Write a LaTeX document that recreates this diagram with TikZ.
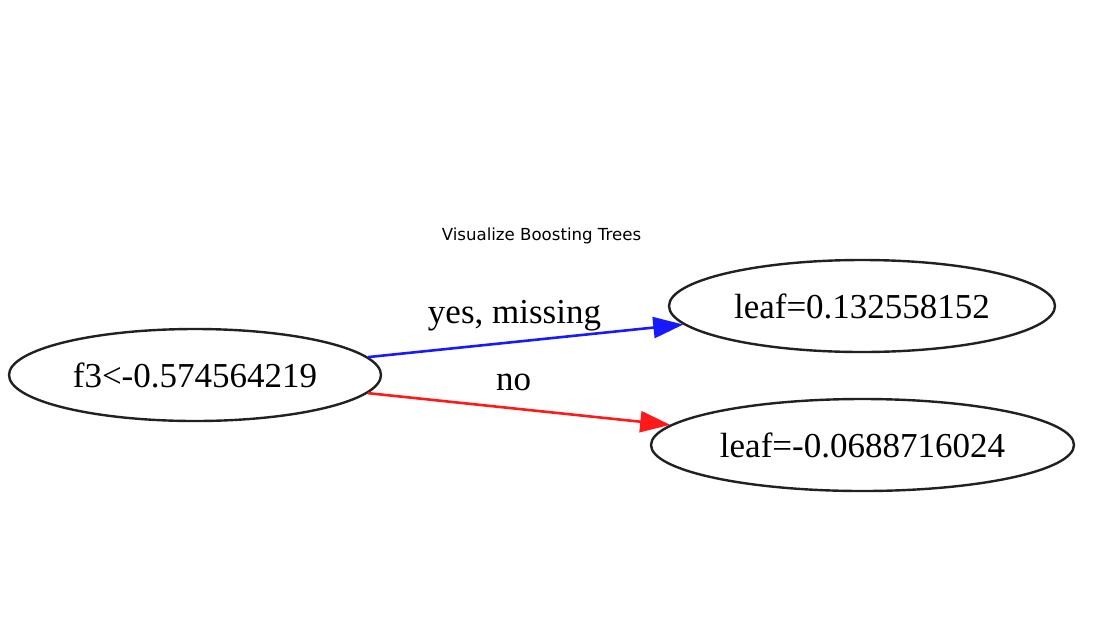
\documentclass[tikz,border=0pt]{standalone}
\usepackage{fontspec}
\setmainfont{Liberation Serif}
\newfontfamily\titlefont{DejaVu Sans}
\usetikzlibrary{shapes.geometric,arrows.meta}

\newlength{\du}
\setlength{\du}{1pt}

\begin{document}
\begin{tikzpicture}[x=1\du,y=-1\du,
  treenode/.style={ellipse,draw=dialinecolor,line width=2.4\du,inner sep=0pt,
    font=\fontsize{35}{40}\selectfont},
  edgelabel/.style={inner sep=0pt,font=\fontsize{35}{40}\selectfont},
  treeedge/.style={line width=2.6\du,-{Triangle[length=30pt,width=21pt]}}]
\definecolor{dialinecolor}{rgb}{0.130000, 0.130000, 0.130000}
\definecolor{yescolor}{rgb}{0.100000, 0.100000, 1.000000}
\definecolor{nocolor}{rgb}{1.000000, 0.100000, 0.100000}
\useasboundingbox[fill=white] (0.000000,0.000000) rectangle (1100.000000,619.000000);
% title
\node[font=\titlefont\fontsize{16.6}{19}\selectfont] (title) at (541.500000,236.000000) {Visualize Boosting Trees};
% nodes
\node[treenode,minimum width=372\du,minimum height=92\du] (split) at (195.000000,375.000000) {f3<-0.574564219};
\node[treenode,minimum width=386\du,minimum height=92\du] (leafyes) at (862.000000,306.000000) {leaf=0.132558152};
\node[treenode,minimum width=423\du,minimum height=92\du] (leafno) at (862.500000,445.000000) {leaf=-0.0688716024};
% edges
\draw[treeedge,draw=yescolor,fill=yescolor] (split) -- (leafyes);
\draw[treeedge,draw=nocolor,fill=nocolor] (split) -- (leafno);
\node[edgelabel] (labelyes) at (514.500000,316.000000) {yes, missing};
\node[edgelabel] (labelno) at (513.500000,382.000000) {no};
\end{tikzpicture}
\end{document}
